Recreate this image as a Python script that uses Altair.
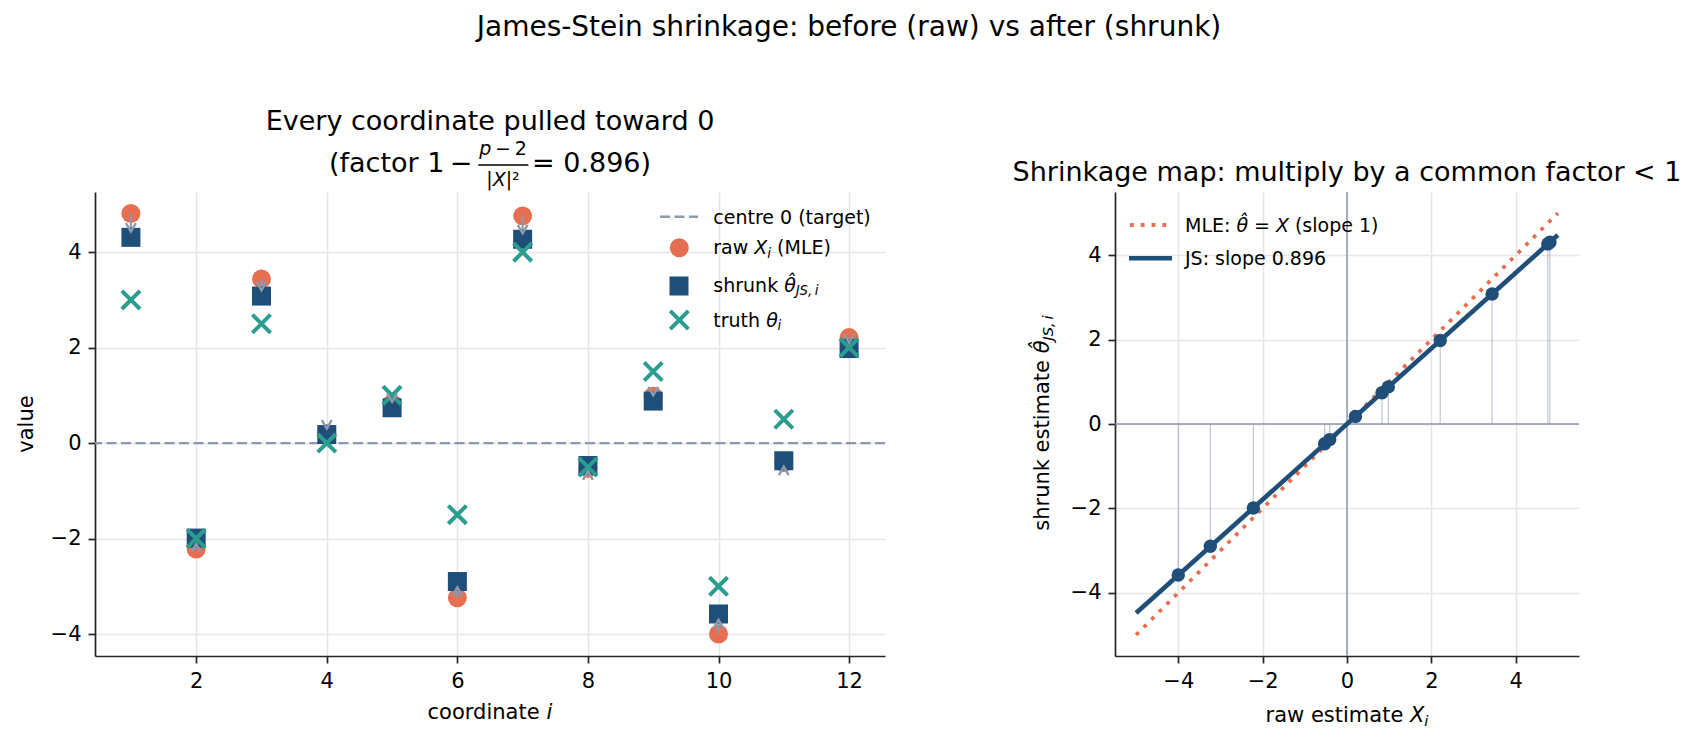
import altair as alt
import pandas as pd

# ---------------- data ----------------
coord = list(range(1, 13))
raw = [4.81, -2.22, 3.44, 0.20, 0.83, -3.24, 4.76, -0.53, 0.98, -4.00, -0.41, 2.21]
shrunk = [4.31, -1.99, 3.08, 0.18, 0.74, -2.90, 4.27, -0.47, 0.88, -3.58, -0.37, 1.98]
truth = [3.0, -2.0, 2.5, 0.0, 1.0, -1.5, 4.0, -0.5, 1.5, -3.0, 0.5, 2.0]
line_x = [-5.0, 5.0]
mle_y = [-5.0, 5.0]
js_y = [-4.48, 4.48]
left_xticks = [2, 4, 6, 8, 10, 12]
left_yticks = [-4, -2, 0, 2, 4]
right_ticks = [-4, -2, 0, 2, 4]

# ---------------- styles ----------------
CORAL = "#e76f51"
NAVY = "#1f4e79"
TEAL = "#2a9d8f"
SLATE = "#8d99ae"
INK = "#000000"
SPINE = "#262626"
GRID = "#e6e6e6"
FONT = "DejaVu Sans"
LW, LH = 790, 464
RW, RH = 464, 464
XPATH = "M -1 -1 L 1 1 M -1 1 L 1 -1"
HEAD = "M -0.55 -1.6 L 0 -0.65 L 0.55 -1.6"

# DejaVu Sans advance widths (em)
W = {' ': 0.318, '(': 0.390, ')': 0.390, ',': 0.318, '-': 0.361, '.': 0.318, ':': 0.337,
     '<': 0.838, '=': 0.838, '|': 0.337, 'A': 0.684, 'C': 0.698, 'E': 0.632, 'J': 0.295,
     'L': 0.557, 'M': 0.863, 'S': 0.635, 'X': 0.685, 'a': 0.613, 'b': 0.635, 'c': 0.550,
     'd': 0.635, 'e': 0.615, 'f': 0.352, 'g': 0.635, 'h': 0.634, 'i': 0.278, 'j': 0.278,
     'k': 0.579, 'l': 0.278, 'm': 0.974, 'n': 0.634, 'o': 0.612, 'p': 0.635, 'r': 0.411,
     's': 0.521, 't': 0.392, 'u': 0.634, 'v': 0.592, 'w': 0.818, 'x': 0.592, 'y': 0.592,
     '\u03b8': 0.602, '\u2212': 0.838, '\u00b2': 0.401, '\u2009': 0.2, '\u0302': 0.0}
for d in "0123456789":
    W[d] = 0.636


def tw(t, px):
    return sum(W.get(c, 0.6) for c in t) * px


def rich(segs, x, y, size, anchor="left", angle=0):
    """segs: (text, italic, scale, baseline shift). Returns text rows laid out in pixels."""
    if len(segs) == 1 and anchor == "center" and angle == 0:
        t, it, sc, dy = segs[0]
        return [dict(text=t, x=x, y=y + dy, size=size * sc, angle=0, italic=it, align="center")]
    widths = [tw(t, size * sc) for (t, it, sc, dy) in segs]
    total = sum(widths)
    a = -total / 2 if anchor == "center" else 0.0
    rows = []
    for (t, it, sc, dy), w in zip(segs, widths):
        lead = len(t) - len(t.lstrip())
        start = a + tw(t[:lead], size * sc)
        if angle == 0:
            px, py = x + start, y + dy
        else:  # 270: text runs upward
            px, py = x + dy, y - start
        rows.append(dict(text=t.strip(), x=px, y=py, size=size * sc, angle=angle,
                         italic=it, align="left"))
        a += w
    return rows


def text_layers(rows):
    tdf = pd.DataFrame(rows)
    out = []
    for (it, al), sub in tdf.groupby(["italic", "align"]):
        out.append(
            alt.Chart(sub.reset_index(drop=True)).mark_text(
                font=FONT, fontStyle="italic" if it else "normal", align=al,
                baseline="alphabetic", color=INK
            ).encode(
                x=alt.X("x:Q", scale=None), y=alt.Y("y:Q", scale=None),
                text="text:N", size=alt.Size("size:Q", scale=None),
                angle=alt.Angle("angle:Q", scale=None)
            )
        )
    return out


def axis_cfg(values):
    return alt.Axis(values=values, title=None, grid=True, gridColor=GRID, gridWidth=1.6,
                    domainColor=SPINE, domainWidth=1.7, tickColor=SPINE, tickWidth=1.7,
                    tickSize=7, labelFont=FONT, labelFontSize=21, labelColor=INK,
                    labelPadding=7, labelFlush=False, labelOverlap=False)


def pix_rule(x1, x2, y1, y2, **kw):
    d = pd.DataFrame({"x1": [x1], "x2": [x2], "y1": [y1], "y2": [y2]})
    return alt.Chart(d).mark_rule(**kw).encode(
        x=alt.X("x1:Q", scale=None), x2="x2:Q", y=alt.Y("y1:Q", scale=None), y2="y2:Q")


def pix_point(x, y, **kw):
    d = pd.DataFrame({"x": [x], "y": [y]})
    return alt.Chart(d).mark_point(**kw).encode(
        x=alt.X("x:Q", scale=None), y=alt.Y("y:Q", scale=None))


# ---------------- left panel ----------------
lx_scale = alt.Scale(domain=[0.45, 12.55], nice=False, zero=False)
ly_scale = alt.Scale(domain=[-4.46, 5.26], nice=False, zero=False)


def LX(f):
    return alt.X(f, scale=lx_scale, axis=axis_cfg(left_xticks))


def LY(f):
    return alt.Y(f, scale=ly_scale, axis=axis_cfg(left_yticks))


CIRC_S, SQ_S, X_S = 360, 361, 330

df = pd.DataFrame({"coord": coord, "raw": raw, "shrunk": shrunk, "truth": truth})
df["head_angle"] = [0 if r > s else 180 for r, s in zip(raw, shrunk)]

zero_line = alt.Chart(pd.DataFrame({"v": [0.0]})).mark_rule(
    color=SLATE, strokeWidth=2.4, strokeDash=[10, 4.5]).encode(y=LY("v:Q"))
circles = alt.Chart(df).mark_point(shape="circle", filled=True, size=CIRC_S, color=CORAL,
                                   opacity=1).encode(x=LX("coord:Q"), y=LY("raw:Q"))
shafts = alt.Chart(df).mark_rule(color=SLATE, strokeWidth=2.2).encode(
    x=LX("coord:Q"), y=LY("raw:Q"), y2="shrunk:Q")
squares = alt.Chart(df).mark_point(shape="square", filled=True, size=SQ_S, color=NAVY,
                                   opacity=1).encode(x=LX("coord:Q"), y=LY("shrunk:Q"))
crosses = alt.Chart(df).mark_point(shape=XPATH, filled=False, size=X_S, strokeWidth=4,
                                   color=TEAL, opacity=1).encode(x=LX("coord:Q"), y=LY("truth:Q"))
heads = alt.Chart(df).mark_point(shape=HEAD, filled=False, size=320, strokeWidth=2.4,
                                 color=SLATE, opacity=1).encode(
    x=LX("coord:Q"), y=LY("shrunk:Q"), angle=alt.Angle("head_angle:Q", scale=None))

F, T = False, True
left_rows = []
left_rows += rich([("James-Stein shrinkage: before (raw) vs after (shrunk)", F, 1, 0)], 754, -155.7, 28, "center")
left_rows += rich([("Every coordinate pulled toward 0", F, 1, 0)], 395, -62.5, 27, "center")
left_rows += rich([("(factor 1", F, 1, 0)], 234, -20.3, 27)
left_rows += rich([("\u2212", F, 1, 0)], 366, -20.3, 27, "center")
left_rows += rich([("p", T, 1, 0), ("\u2009\u2212\u20092", F, 1, 0)], 408, -37, 19, "center")
left_rows += rich([("|", F, 1, 0), ("X", T, 1, 0), ("|", F, 1, 0), ("\u00b2", F, 1, 0)], 408, -6.3, 19, "center")
left_rows += rich([("= 0.896)", F, 1, 0)], 437, -20.3, 27)
left_rows += rich([("centre 0 (target)", F, 1, 0)], 618.3, 32.3, 19)
left_rows += rich([("raw ", F, 1, 0), ("X", T, 1, 0), ("i", T, 0.7, 3.5), (" (MLE)", F, 1, 0)], 618.3, 62, 19)
left_rows += rich([("shrunk ", F, 1, 0), ("\u03b8\u0302", T, 1, 0), ("JS,\u2009i", T, 0.7, 3.5)], 618.3, 99.7, 19)
left_rows += rich([("truth ", F, 1, 0), ("\u03b8", T, 1, 0), ("i", T, 0.7, 3.5)], 618.3, 134.7, 19)
left_rows += rich([("value", F, 1, 0)], -62, 232, 21, "center", 270)
left_rows += rich([("coordinate ", F, 1, 0), ("i", T, 1, 0)], 395, 527, 21, "center")

left_layers = [
    zero_line, circles, shafts, squares, crosses, heads,
    pix_rule(383.3, 433.3, -27, -27, color=INK, strokeWidth=1.3),
    pix_rule(565, 603, 24.7, 24.7, color=SLATE, strokeWidth=2.4, strokeDash=[10, 4.5]),
    pix_point(584.3, 55.7, shape="circle", filled=True, size=CIRC_S, color=CORAL, opacity=1),
    pix_point(584, 94, shape="square", filled=True, size=SQ_S, color=NAVY, opacity=1),
    pix_point(584.3, 128, shape=XPATH, filled=False, size=X_S, strokeWidth=4, color=TEAL, opacity=1),
    pix_rule(-95, -95, -192, -192, color="#ffffff", strokeWidth=0.01, opacity=0),
] + text_layers(left_rows)

left = alt.layer(*left_layers).properties(width=LW, height=LH)

# ---------------- right panel ----------------
r_scale = alt.Scale(domain=[-5.5, 5.5], nice=False, zero=False)


def RX(f):
    return alt.X(f, scale=r_scale, axis=axis_cfg(right_ticks))


def RY(f):
    return alt.Y(f, scale=r_scale, axis=axis_cfg(right_ticks))


dfr = pd.DataFrame({"raw": raw, "shrunk": shrunk, "zero": [0.0] * len(raw)})
zdf = pd.DataFrame({"v": [0.0]})
vzero = alt.Chart(zdf).mark_rule(color=SLATE, strokeWidth=1.5).encode(x=RX("v:Q"))
hzero = alt.Chart(zdf).mark_rule(color=SLATE, strokeWidth=1.5).encode(y=RY("v:Q"))
stems = alt.Chart(dfr).mark_rule(color=SLATE, strokeWidth=1.2, opacity=0.55).encode(
    x=RX("raw:Q"), y=RY("zero:Q"), y2="shrunk:Q")
mle_line = alt.Chart(pd.DataFrame({"x": line_x, "y": mle_y})).mark_line(
    color=CORAL, strokeWidth=3.8, strokeDash=[3.8, 7]).encode(x=RX("x:Q"), y=RY("y:Q"))
js_line = alt.Chart(pd.DataFrame({"x": line_x, "y": js_y})).mark_line(
    color=NAVY, strokeWidth=4.6).encode(x=RX("x:Q"), y=RY("y:Q"))
dots = alt.Chart(dfr).mark_circle(size=180, color=NAVY, opacity=1).encode(
    x=RX("raw:Q"), y=RY("shrunk:Q"))

right_rows = []
right_rows += rich([("Shrinkage map: multiply by a common factor  < 1", F, 1, 0)], 232, -11.5, 27, "center")
right_rows += rich([("MLE: ", F, 1, 0), ("\u03b8\u0302", T, 1, 0), (" = ", F, 1, 0), ("X", T, 1, 0),
                    (" (slope 1)", F, 1, 0)], 70, 39.7, 19)
right_rows += rich([("JS: slope 0.896", F, 1, 0)], 70, 73, 19)
right_rows += rich([("shrunk estimate ", F, 1, 0), ("\u03b8\u0302", T, 1, 0), ("JS,\u2009i", T, 0.7, 4)],
                   -66, 231, 21, "center", 270)
right_rows += rich([("raw estimate ", F, 1, 0), ("X", T, 1, 0), ("i", T, 0.7, 4)], 232, 529.7, 21, "center")

right_layers = [
    vzero, hzero, stems, mle_line, js_line, dots,
    pix_rule(15, 55, 33, 33, color=CORAL, strokeWidth=3.8, strokeDash=[3.8, 7]),
    pix_rule(14, 57, 66.3, 66.3, color=NAVY, strokeWidth=4.6),
] + text_layers(right_rows)

right = alt.layer(*right_layers).properties(width=RW, height=RH)

chart = alt.hconcat(left, right, spacing=230, bounds="flush").properties(
    padding={"left": 0, "top": 0, "right": 0, "bottom": 0},
    background="#ffffff",
).configure_view(stroke=None)

chart.save("out.html", embed_options={"renderer": "svg", "actions": False})
